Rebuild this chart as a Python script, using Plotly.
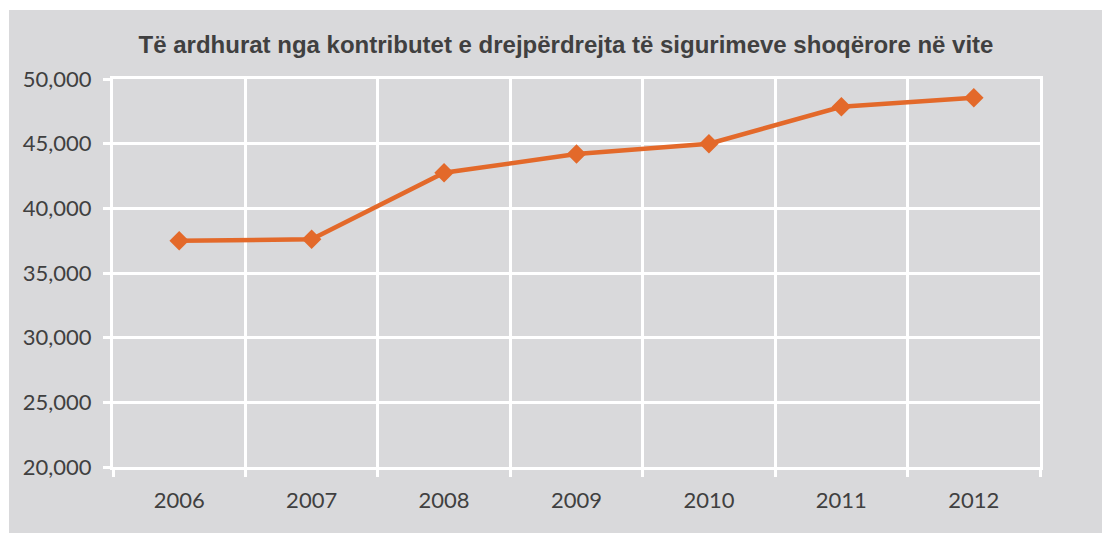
import plotly.graph_objects as go

years = ["2006", "2007", "2008", "2009", "2010", "2011", "2012"]
revenues = [37500, 37600, 42750, 44200, 45000, 47850, 48550]
y_ticks = [20000, 25000, 30000, 35000, 40000, 45000, 50000]
y_tick_labels = ["20,000", "25,000", "30,000", "35,000", "40,000", "45,000", "50,000"]
title_text = "Të ardhurat nga kontributet e drejpërdrejta të sigurimeve shoqërore në vite"

BG = "#d9d9db"
ORANGE = "#e3692a"
TEXT = "#404040"

# page body has an 8px offset, so figure coords = page coords - 8
W, H = 1102, 525
L, R, T, B = 105, 1032, 71, 459
pw, ph = R - L, B - T

fig = go.Figure()
fig.add_trace(go.Scatter(
    x=years, y=revenues, mode="lines+markers",
    line=dict(color=ORANGE, width=4.5),
    marker=dict(symbol="diamond", size=15, color=ORANGE),
    showlegend=False, cliponaxis=False,
))

fig.update_layout(
    width=W, height=H,
    margin=dict(l=L, r=W - R, t=T, b=H - B, pad=0),
    paper_bgcolor="white",
    plot_bgcolor=BG,
    title=dict(text="<b>" + title_text + "</b>", x=558 / W, xanchor="center",
               y=1 - 37 / H, yanchor="middle",
               font=dict(family="Liberation Sans, Arial", size=24, color=TEXT)),
    shapes=[dict(type="rect", xref="paper", yref="paper",
                 x0=(1 - L) / pw, x1=(W + 5 - L) / pw,
                 y0=(B - H - 5) / ph, y1=(B - 2) / ph,
                 fillcolor=BG, line=dict(width=0), layer="below")],
)

tick_font = dict(family="Lato, Calibri, sans-serif", size=22, color=TEXT)

fig.update_xaxes(
    type="category", tickson="boundaries",
    range=[-0.5, len(years) - 0.5],
    showgrid=True, gridcolor="white", gridwidth=3,
    showline=True, linecolor="white", linewidth=3, mirror=True,
    ticks="outside", ticklen=7, tickwidth=3, tickcolor="white",
    tickfont=tick_font,
    ticklabelstandoff=12,
    fixedrange=True,
)
fig.update_yaxes(
    range=[20000, 50000], tickvals=y_ticks, ticktext=y_tick_labels,
    showgrid=True, gridcolor="white", gridwidth=3,
    showline=True, linecolor="white", linewidth=3, mirror=True,
    ticks="outside", ticklen=7, tickwidth=3, tickcolor="white",
    tickfont=tick_font,
    ticklabelstandoff=7,
    zeroline=False, fixedrange=True,
)

fig.write_html("out.html")
